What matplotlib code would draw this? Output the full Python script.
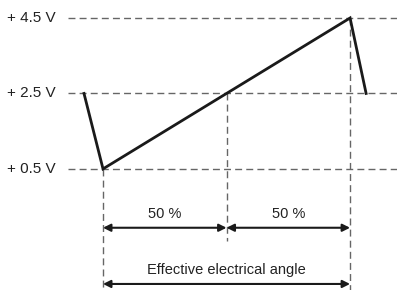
import matplotlib.pyplot as plt
from matplotlib import font_manager

# output signal over the electrical angle (%), volts
angle = [-7.7, 0, 100, 106.5]
volts = [2.5, 0.5, 4.5, 2.5]

levels = [4.5, 2.5, 0.5]
level_labels = ['+ 4.5 V', '+ 2.5 V', '+ 0.5 V']

# dimension arrows: (start, end, row y, label)
spans = [(0, 50, -1.06, '50 %'), (50, 100, -1.06, '50 %'),
         (0, 100, -2.55, 'Effective electrical angle')]

names = {f.name for f in font_manager.fontManager.ttflist}
fam = ['Liberation Sans Narrow', 'DejaVu Sans'] if 'Liberation Sans Narrow' in names else ['Liberation Sans', 'DejaVu Sans']
plt.rcParams['font.family'] = fam

fig = plt.figure(figsize=(3.97, 2.90), dpi=100)
ax = fig.add_axes([0, 0, 1, 1])
ax.set_xlim(-41.7, 119.0)
ax.set_ylim(-2.71, 4.977)
ax.axis('off')

dash = dict(color='#666666', lw=1.0, dashes=(5, 3))

# horizontal reference levels + labels
for v, lab in zip(levels, level_labels):
    ax.plot([-14.2, 119.0], [v, v], **dash)
    ax.text(-19.0, v, lab, ha='right', va='center', fontsize=11, color='#222222')

# vertical guide lines
ax.plot([0, 0], [0.5, -2.71], **dash)
ax.plot([50, 50], [2.5, -1.42], **dash)
ax.plot([100, 100], [4.5, -2.71], **dash)

# the signal
ax.plot(angle, volts, color='#1a1a1a', lw=2.0, solid_joinstyle='miter')

for x0, x1, y, lab in spans:
    ax.annotate('', xy=(x1, y), xytext=(x0, y),
                arrowprops=dict(arrowstyle='<|-|>', color='#1a1a1a', lw=1.5,
                                mutation_scale=11, shrinkA=0, shrinkB=0))
    ax.text((x0 + x1) / 2, y + 0.18, lab, ha='center', va='bottom',
            fontsize=10.5, color='#222222')

fig.savefig('out.png', dpi=100)
